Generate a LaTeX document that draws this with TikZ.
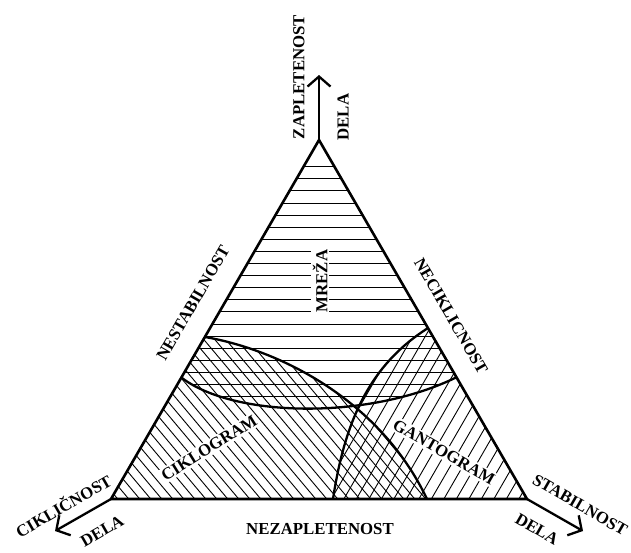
\documentclass[tikz,border=0pt]{standalone}
\usepackage{fontspec}
\setmainfont{Liberation Serif}
\usetikzlibrary{arrows.meta}
\begin{document}
\begin{tikzpicture}[x=1pt,y=-1pt,
  lbl/.style={font=\fontsize{16.8}{18}\selectfont\bfseries, inner sep=0pt},
  arealbl/.style={lbl, fill=white, inner xsep=1pt, inner ysep=2pt},
  edge/.style={line width=2.6pt, line join=miter},
  curve/.style={line width=2.3pt},
  hatch/.style={line width=0.9pt},
  axisarrow/.style={line width=2.3pt, -{Straight Barb[length=10pt,width=23pt]}}]
\useasboundingbox (0,0) rectangle (631,552);
\coordinate (T) at (319,140);
\coordinate (L) at (111,499);
\coordinate (R) at (527,499);
\coordinate (Ttip) at (319,75);
\coordinate (Ltip) at (55,531);
\coordinate (Rtip) at (583,531);
\coordinate (A0) at (205,337);
\coordinate (A1) at (427,499);
\coordinate (B0) at (182,378);
\coordinate (B1) at (457,377);
\coordinate (C0) at (428,328);
\coordinate (C1) at (333,499);
% mreza hatching
\begin{scope}
\clip (T) -- (B0) .. controls (235,418) and (370,420) .. (B1) -- cycle;
\foreach \k in {0,...,20} \draw[hatch] (100,166.7+12.1*\k) -- (540,166.7+12.1*\k);
\end{scope}
% ciklogram hatching
\begin{scope}
\clip (L) -- (A0) .. controls (280,350) and (380,400) .. (A1) -- cycle;
\foreach \k in {0,...,45} \draw[hatch] (116+11*\k,510) -- ++(-320,-381);
\end{scope}
% gantogram hatching
\begin{scope}
\clip (R) -- (C0) .. controls (370,365) and (345,420) .. (C1) -- cycle;
\foreach \k in {0,...,28} \draw[hatch] (300+12.5*\k,510) -- ++(220,-381);
\end{scope}
% area labels on white
\node[arealbl, rotate=90] (mreza) at (320,281) {MREŽA};
\node[arealbl, rotate=32] (ciklo) at (209,448) {CIKLOGRAM};
\node[arealbl, rotate=-30] (ganto) at (444,452) {GANTOGRAM};
% boundary curves
\draw[curve] (A0) .. controls (280,350) and (380,400) .. (A1);
\draw[curve] (B0) .. controls (235,418) and (370,420) .. (B1);
\draw[curve] (C0) .. controls (370,365) and (345,420) .. (C1);
% triangle
\draw[edge] (T) -- (L) -- (R) -- cycle;
% axes
\draw[axisarrow] (T) -- (Ttip);
\draw[axisarrow] (L) -- (Ltip);
\draw[axisarrow] (R) -- (Rtip);
% labels
\node[lbl, rotate=90] (zap) at (299,77) {ZAPLETENOST};
\node[lbl, rotate=90] (delaT) at (343,117) {DELA};
\node[lbl, rotate=30] (cik) at (63,505) {CIKLIČNOST};
\node[lbl, rotate=30] (delaL) at (102,531) {DELA};
\node[lbl, rotate=-30] (stab) at (580,505) {STABILNOST};
\node[lbl, rotate=-30] (delaR) at (537,529) {DELA};
\node[lbl, rotate=60] (nestab) at (193,303) {NESTABILNOST};
\node[lbl, rotate=-60] (necik) at (451,316) {NECIKLICNOST};
\node[lbl] (nezap) at (320,529) {NEZAPLETENOST};
\end{tikzpicture}
\end{document}
